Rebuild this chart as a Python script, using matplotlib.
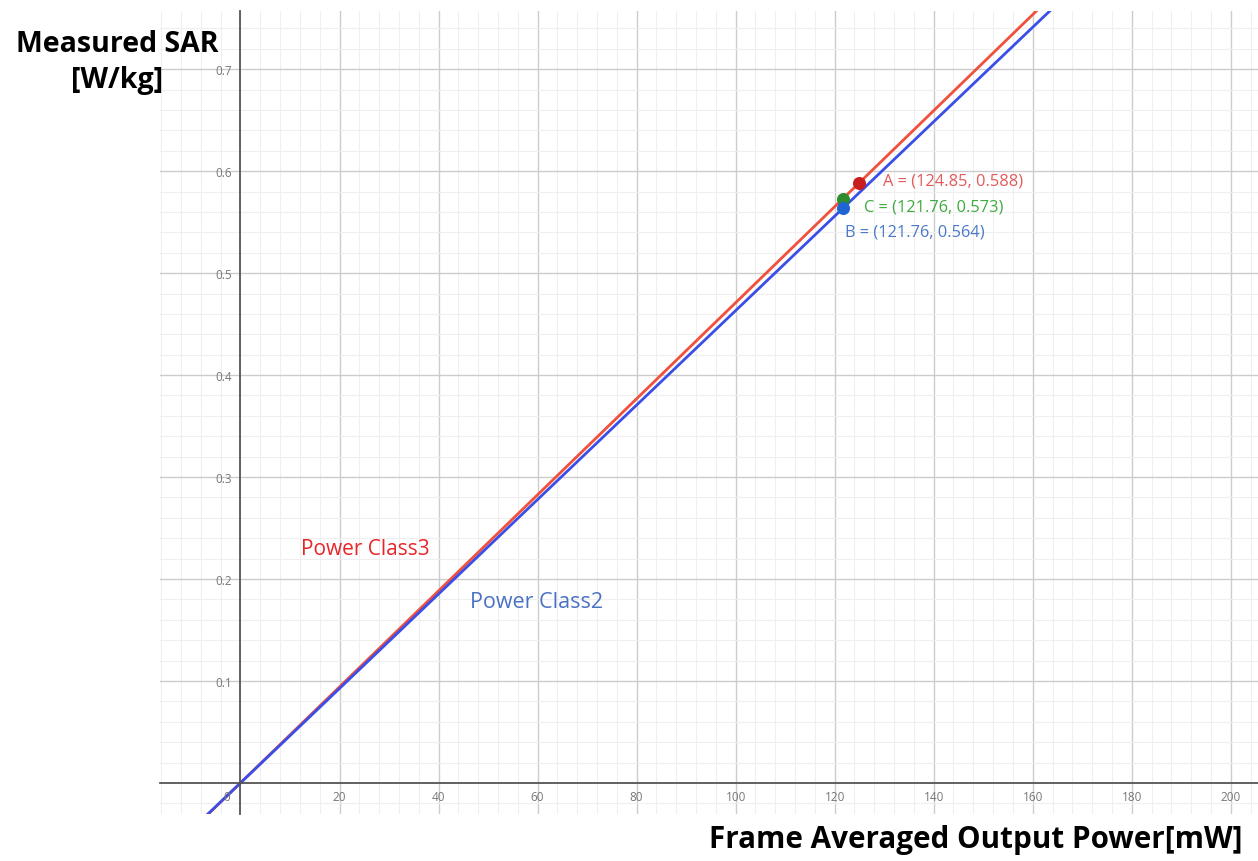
import numpy as np
import matplotlib
matplotlib.use('Agg')
from matplotlib import pyplot as plt
from matplotlib.ticker import MultipleLocator

# points
pt_names = ['A', 'C', 'B']
pt_x = [124.85, 121.76, 121.76]
pt_y = [0.588, 0.573, 0.564]
pt_colors = ['#c81e1e', '#2e8b2e', '#1e64d2']
lbl_colors = ['#e35a5a', '#3faa3f', '#4a78c8']

# lines through the origin: class3 through A, class2 through B
class_names = ['Power Class3', 'Power Class2']
class_colors = ['#f0503c', '#3a4ee8']
class_txt_colors = ['#e8262a', '#4a72c4']
class_slopes = [pt_y[0] / pt_x[0], pt_y[2] / pt_x[2]]

xticks = [20, 40, 60, 80, 100, 120, 140, 160, 180, 200]
yticks = [0.1, 0.2, 0.3, 0.4, 0.5, 0.6, 0.7]

plt.rcParams['font.family'] = ['Open Sans', 'DejaVu Sans']

fig = plt.figure(figsize=(12.58, 8.62), dpi=100)
ax = fig.add_axes([0.127, 0.0545, 0.873, 0.9315])
ax.set_xlim(-16.3, 205.5)
ax.set_ylim(-0.0305, 0.757)

ax.xaxis.set_major_locator(MultipleLocator(20))
ax.xaxis.set_minor_locator(MultipleLocator(4))
ax.yaxis.set_major_locator(MultipleLocator(0.1))
ax.yaxis.set_minor_locator(MultipleLocator(0.02))
ax.grid(which='major', color='#cccccc', lw=1.0)
ax.grid(which='minor', color='#efefef', lw=0.8)
ax.set_axisbelow(True)

for s in ['top', 'right']:
    ax.spines[s].set_visible(False)
ax.spines['left'].set_position(('data', 0))
ax.spines['bottom'].set_position(('data', 0))
ax.spines['left'].set_color('#555555')
ax.spines['bottom'].set_color('#555555')
ax.spines['left'].set_linewidth(1.3)
ax.spines['bottom'].set_linewidth(1.3)

ax.set_xticks(xticks)
ax.set_yticks(yticks)
ax.set_xticklabels([str(v) for v in xticks])
ax.set_yticklabels([str(v) for v in yticks])
ax.tick_params(which='both', length=0, labelsize=8.5, labelcolor='#777777')
ax.tick_params(axis='x', pad=5)
ax.tick_params(axis='y', pad=6)
ax.text(-2.0, -0.013, '0', fontsize=8.5, color='#777777', ha='right', va='center')

for name, c, k in zip(class_names, class_colors, class_slopes):
    ax.axline((0, 0), slope=k, color=c, lw=2.0)

ax.text(12.3, 0.2296, class_names[0], color=class_txt_colors[0], fontsize=15, va='center')
ax.text(46.3, 0.1776, class_names[1], color=class_txt_colors[1], fontsize=15.5, va='center')

offs = [(5.0, 0.0028), (4.1, -0.0077), (0.4, -0.0233)]
for n, x, y, c, lc, o in zip(pt_names, pt_x, pt_y, pt_colors, lbl_colors, offs):
    ax.scatter([x], [y], s=70, color=c, zorder=5)
    ax.text(x + o[0], y + o[1], '%s = (%s, %s)' % (n, x, y), color=lc,
            fontsize=11.8, va='center')

# axis titles sit outside the plot like in the original picture
fig.text(0.093, 0.948, 'Measured SAR', fontsize=20.5, fontweight='bold',
         ha='center', va='center')
fig.text(0.093, 0.907, '[W/kg]', fontsize=20.5, fontweight='bold',
         ha='center', va='center')
fig.text(0.988, 0.026, 'Frame Averaged Output Power[mW]', fontsize=21.3,
         fontweight='bold', ha='right', va='center')

fig.savefig('out.png', dpi=100)
